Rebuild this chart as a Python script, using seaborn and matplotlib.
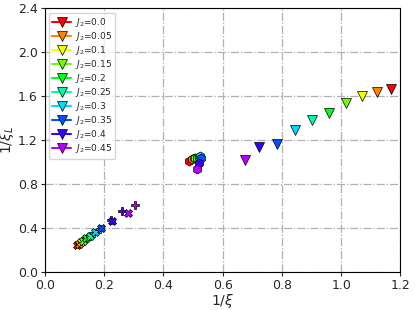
import numpy as np
import pandas as pd
import matplotlib
matplotlib.use("Agg")
import matplotlib.pyplot as plt
import seaborn as sns

J2 = [0.0, 0.05, 0.1, 0.15, 0.2, 0.25, 0.3, 0.35, 0.4, 0.45]
labels = ["0.0", "0.05", "0.1", "0.15", "0.2", "0.25", "0.3", "0.35", "0.4", "0.45"]

# triangle series (1/xi, 1/xi_L)
tri_x = [1.169, 1.122, 1.071, 1.017, 0.959, 0.902, 0.845, 0.784, 0.723, 0.676]
tri_y = [1.664, 1.636, 1.600, 1.536, 1.445, 1.380, 1.290, 1.164, 1.136, 1.018]

# hexagon series
hex_x = [0.486, 0.497, 0.503, 0.508, 0.514, 0.520, 0.524, 0.527, 0.520, 0.514]
hex_y = [1.009, 1.027, 1.036, 1.040, 1.036, 1.045, 1.055, 1.036, 0.990, 0.936]

# X series
xm_x = [0.108, 0.115, 0.122, 0.130, 0.140, 0.152, 0.168, 0.190, 0.225, 0.280]
xm_y = [0.240, 0.255, 0.270, 0.285, 0.305, 0.330, 0.360, 0.400, 0.460, 0.535]

# P series
pm_x = [0.118, 0.125, 0.133, 0.142, 0.153, 0.167, 0.185, 0.222, 0.262, 0.303]
pm_y = [0.265, 0.280, 0.295, 0.310, 0.330, 0.355, 0.390, 0.470, 0.555, 0.610]

xticks = [0.0, 0.2, 0.4, 0.6, 0.8, 1.0, 1.2]
yticks = [0.0, 0.4, 0.8, 1.2, 1.6, 2.0, 2.4]

sns.set_style("ticks")
plt.rcParams['font.family'] = ['DejaVu Sans']
colors = plt.cm.hsv(np.linspace(0, 0.8, len(J2)))

fig = plt.figure(figsize=(4.15, 3.10), dpi=100)
ax = fig.add_axes([0.108, 0.123, 0.857, 0.851])

for i in range(len(J2)):
    c = colors[i]
    sns.lineplot(x=[xm_x[i]], y=[xm_y[i]], marker='X', color=c, markersize=5.5,
                 markeredgecolor='k', markeredgewidth=0.5, ax=ax, legend=False)
    sns.lineplot(x=[pm_x[i]], y=[pm_y[i]], marker='P', color=c, markersize=5.5,
                 markeredgecolor='k', markeredgewidth=0.5, ax=ax, legend=False)
    sns.lineplot(x=[hex_x[i]], y=[hex_y[i]], marker='h', color=c, markersize=6.5,
                 markeredgecolor='k', markeredgewidth=0.5, ax=ax, legend=False)
    sns.lineplot(x=[tri_x[i]], y=[tri_y[i]], marker='v', color=c, markersize=6.5,
                 markeredgecolor='k', markeredgewidth=0.5, ax=ax,
                 label=r"$J_2$=" + labels[i])

ax.set_xlim(0, 1.2)
ax.set_ylim(0, 2.4)
ax.set_xticks(xticks)
ax.set_yticks(yticks)
ax.tick_params(labelsize=9, length=3, width=0.8, pad=2)
ax.set_xlabel(r"$1/\xi$", fontsize=10, labelpad=0)
ax.set_ylabel(r"$1/\xi_L$", fontsize=10, labelpad=1)
ax.grid(True, color='#b0b0b0', linestyle='-.', linewidth=0.9)
for s in ax.spines.values():
    s.set_color('black')
    s.set_linewidth(0.8)
leg = ax.legend(loc='upper left', fontsize=6.5, handlelength=2.0,
                labelspacing=0.12, borderpad=0.35, handletextpad=0.5,
                framealpha=0.8)
fig.savefig("out.png", dpi=100)
